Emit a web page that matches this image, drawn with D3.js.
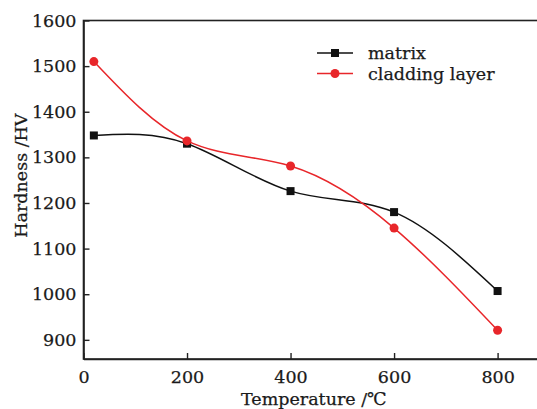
<!DOCTYPE html>
<html>
<head>
<meta charset="utf-8">
<script src="https://cdn.jsdelivr.net/npm/d3@7"></script>
<style>
  body { margin: 0; background: #fff; }
  text { font-family: "DejaVu Serif", "Liberation Serif", serif; fill: #1a1a1a; stroke: #1a1a1a; stroke-width: 0.25px; }
</style>
</head>
<body>
<div class="chart"></div>
<script>
// data
var temps = [20, 200, 400, 600, 800];
var matrix = [1348, 1330, 1226, 1180, 1007];
var cladding = [1510, 1336, 1281, 1145, 921];
var xTicks = [0, 200, 400, 600, 800];
var yTicks = [900, 1000, 1100, 1200, 1300, 1400, 1500, 1600];
var seriesNames = ["matrix", "cladding layer"];
var seriesColors = ["#111111", "#e8262a"];

var svgWidth = 537;
var svgHeight = 409;
var margin = { top: 20.5, right: -2, bottom: 50, left: 83.5 };
var width = svgWidth - margin.left - margin.right;
var height = svgHeight - margin.top - margin.bottom;
var fontSize = "17.5px";

var svg = d3.select(".chart")
  .append("svg")
  .attr("width", svgWidth)
  .attr("height", svgHeight);

var chart = svg.append("g")
  .attr("transform", "translate(" + margin.left + "," + margin.top + ")");

var xScale = d3.scaleLinear().domain([0, 880]).range([0, width]);
var yScale = d3.scaleLinear().domain([858, 1600]).range([height, 0]);

// frame
chart.append("rect")
  .attr("width", width)
  .attr("height", height)
  .attr("fill", "none")
  .attr("stroke", "#222")
  .attr("stroke-width", 1.6);

// axes with inward ticks
var bottomAxis = d3.axisBottom(xScale).tickValues(xTicks).tickFormat(d3.format("d"))
  .tickSizeInner(-6).tickSizeOuter(0).tickPadding(12);
var leftAxis = d3.axisLeft(yScale).tickValues(yTicks).tickFormat(d3.format("d"))
  .tickSizeInner(-6).tickSizeOuter(0).tickPadding(7);

var gx = chart.append("g").attr("transform", "translate(0," + height + ")").call(bottomAxis);
var gy = chart.append("g").call(leftAxis);

[gx, gy].forEach(function(g) {
  g.select(".domain").attr("stroke", "#222").attr("stroke-width", 1.6);
  g.selectAll(".tick line").attr("stroke", "#222").attr("stroke-width", 1.4);
  g.selectAll(".tick text").style("font-family", "DejaVu Serif").style("font-size", fontSize).attr("fill", "#1a1a1a");
});

// axis titles
svg.append("text")
  .attr("x", margin.left + xScale(445))
  .attr("y", 405)
  .attr("text-anchor", "middle")
  .style("font-size", fontSize)
  .text("Temperature /℃");

svg.append("text")
  .attr("transform", "translate(27," + (margin.top + yScale(1260)) + ") rotate(-90)")
  .attr("text-anchor", "middle")
  .style("font-size", fontSize)
  .text("Hardness /HV");

var line = d3.line()
  .x(function(d) { return xScale(d[0]); })
  .y(function(d) { return yScale(d[1]); })
  .curve(d3.curveNatural);

var series = [matrix, cladding];
series.forEach(function(vals, i) {
  var pts = temps.map(function(t, j) { return [t, vals[j]]; });
  chart.append("path")
    .datum(pts)
    .attr("d", line)
    .attr("fill", "none")
    .attr("stroke", seriesColors[i])
    .attr("stroke-width", 1.5);
});

// markers
chart.selectAll(".sq").data(temps).enter().append("rect")
  .attr("x", function(d) { return xScale(d) - 4; })
  .attr("y", function(d, j) { return yScale(matrix[j]) - 4; })
  .attr("width", 8).attr("height", 8)
  .attr("fill", seriesColors[0]);

chart.selectAll(".dot").data(temps).enter().append("circle")
  .attr("cx", function(d) { return xScale(d); })
  .attr("cy", function(d, j) { return yScale(cladding[j]); })
  .attr("r", 4.5)
  .attr("fill", seriesColors[1]);

// legend
var legend = svg.append("g").attr("transform", "translate(317,53)");
seriesNames.forEach(function(name, i) {
  var row = legend.append("g").attr("transform", "translate(0," + i * 20.5 + ")");
  row.append("line").attr("x1", 0).attr("x2", 36).attr("y1", 0).attr("y2", 0)
    .attr("stroke", seriesColors[i]).attr("stroke-width", 1.5);
  if (i === 0) {
    row.append("rect").attr("x", 14).attr("y", -4).attr("width", 8).attr("height", 8).attr("fill", seriesColors[i]);
  } else {
    row.append("circle").attr("cx", 18).attr("cy", 0).attr("r", 4.5).attr("fill", seriesColors[i]);
  }
  row.append("text").attr("x", 51).attr("y", 6).style("font-size", fontSize).text(name);
});
</script>
</body>
</html>
